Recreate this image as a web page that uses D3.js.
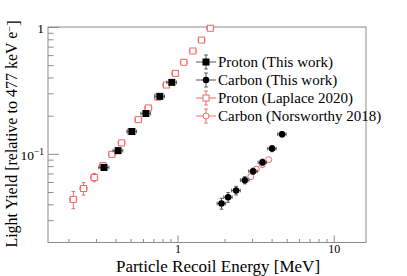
<!DOCTYPE html>
<html><head><meta charset="utf-8">
<script src="https://cdn.jsdelivr.net/npm/d3@7"></script>
<style>html,body{margin:0;padding:0;background:#fff;} svg{display:block;}</style>
</head><body>
<svg id="chart" width="407" height="276"></svg>
<script>
// ---- data ----
const protonE   = [0.338, 0.416, 0.510, 0.627, 0.770, 0.919];
const protonLY  = [0.0781, 0.106, 0.150, 0.208, 0.284, 0.366];
const protonEErr  = [0.025, 0.030, 0.036, 0.045, 0.055, 0.066];
const protonLYErr = [0.004, 0.005, 0.006, 0.008, 0.010, 0.012];

const carbonE   = [1.912, 2.107, 2.371, 2.696, 3.046, 3.499, 4.029, 4.668];
const carbonLY  = [0.0406, 0.0455, 0.0514, 0.0620, 0.0730, 0.0857, 0.110, 0.143];
const carbonEErr  = [0.12, 0.13, 0.15, 0.17, 0.19, 0.22, 0.25, 0.29];
const carbonLYErr = [0.004, 0.004, 0.004, 0.004, 0.004, 0.005, 0.006, 0.007];

const laplaceE  = [0.215, 0.250, 0.293, 0.333, 0.380, 0.438, 0.503, 0.561, 0.650, 0.748, 0.848, 0.968, 1.097, 1.253, 1.425, 1.621];
const laplaceLY = [0.0437, 0.0533, 0.0651, 0.0807, 0.0991, 0.122, 0.150, 0.186, 0.230, 0.280, 0.349, 0.431, 0.527, 0.647, 0.789, 0.977];
const laplaceEErr  = [0.011, 0.013, 0.015, 0.017, 0.019, 0.022, 0.025, 0.028, 0.033, 0.037, 0.042, 0.048, 0.055, 0.063, 0.071, 0.081];
const laplaceLYErr = [0.0068, 0.0060, 0.0050, 0.0045, 0.005, 0.006, 0.0075, 0.009, 0.011, 0.013, 0.016, 0.019, 0.023, 0.027, 0.032, 0.038];

const norsE   = [2.944, 3.193, 3.488, 3.838];
const norsLY  = [0.0661, 0.0757, 0.0822, 0.090];
const norsEErr  = [0.10, 0.10, 0.11, 0.12];
const norsLYErr = [0.003, 0.003, 0.003, 0.003];

const legendLabels = ["Proton (This work)", "Carbon (This work)", "Proton (Laplace 2020)", "Carbon (Norsworthy 2018)"];
const xMajorTicks = [1, 10];
const xMinorTicks = [0.2,0.3,0.4,0.5,0.6,0.7,0.8,0.9,2,3,4,5,6,7,8,9];
const yMajorTicks = [0.1, 1];
const yMinorTicks = [0.03,0.04,0.05,0.06,0.07,0.08,0.09,0.2,0.3,0.4,0.5,0.6,0.7,0.8,0.9];

// ---- layout ----
const L = 48, R = 366, T = 27, B = 242.5;
const FONT = "'Liberation Serif', 'Times New Roman', serif";
const RED = "#f06a6a", BLK = "#000";
const svg = d3.select("#chart");
const x = d3.scaleLog().domain([0.148, 16.1]).range([L, R]);
const y = d3.scaleLog().domain([0.02, 1]).range([B, T]);

// axes (ticks pointing inward)
const axisColor = "#8c8c8c";
function styleAxis(g){ g.select(".domain").remove(); g.selectAll("line").attr("stroke", axisColor); }
svg.append("g").attr("transform",`translate(0,${B})`)
  .call(d3.axisBottom(x).tickValues(xMinorTicks).tickSize(-3.5).tickFormat("")).call(styleAxis);
svg.append("g").attr("transform",`translate(0,${B})`)
  .call(d3.axisBottom(x).tickValues(xMajorTicks).tickSize(-7).tickPadding(2).tickFormat(d3.format("d")))
  .call(styleAxis)
  .call(g=>g.selectAll("text").attr("font-family",FONT).attr("font-size",12).attr("fill","#000").attr("dy","0.72em"));
svg.append("g").attr("transform",`translate(${L},0)`)
  .call(d3.axisLeft(y).tickValues(yMinorTicks).tickSize(-5.5).tickFormat("")).call(styleAxis);
const yMaj = svg.append("g").attr("transform",`translate(${L},0)`)
  .call(d3.axisLeft(y).tickValues(yMajorTicks).tickSize(-11).tickPadding(4).tickFormat(""))
  .call(styleAxis);
yMaj.selectAll(".tick").each(function(d){
  const t = d3.select(this).append("text").attr("x",-4).attr("dy","0.4em")
    .attr("text-anchor","end").attr("font-family",FONT).attr("font-size",13.5).attr("fill","#000");
  if (d === 1) t.text("1");
  else { t.append("tspan").text("10"); t.append("tspan").attr("dy","-0.45em").attr("font-size",9.5).text("\u22121"); }
});

// frame
svg.append("rect").attr("x",L).attr("y",T).attr("width",R-L).attr("height",B-T)
  .attr("fill","none").attr("stroke",axisColor).attr("stroke-width",1);

// error bars + markers
function series(E, LY, dE, dLY, color, errColor, shape, filled, size){
  const g = svg.append("g");
  const data = E.map((e,i)=>({e, ly:LY[i], de:dE[i], dly:dLY[i]}));
  const cap = 1.8;
  data.forEach(d=>{
    const cx = x(d.e), cy = y(d.ly);
    const x0 = x(d.e - d.de), x1 = x(d.e + d.de), y0 = y(d.ly - d.dly), y1 = y(d.ly + d.dly);
    const eg = g.append("g").attr("stroke",errColor).attr("stroke-width",1).attr("fill","none");
    eg.append("line").attr("x1",x0).attr("x2",x1).attr("y1",cy).attr("y2",cy);
    eg.append("line").attr("x1",cx).attr("x2",cx).attr("y1",y0).attr("y2",y1);
    eg.append("line").attr("x1",x0).attr("x2",x0).attr("y1",cy-cap).attr("y2",cy+cap);
    eg.append("line").attr("x1",x1).attr("x2",x1).attr("y1",cy-cap).attr("y2",cy+cap);
    eg.append("line").attr("x1",cx-cap).attr("x2",cx+cap).attr("y1",y0).attr("y2",y0);
    eg.append("line").attr("x1",cx-cap).attr("x2",cx+cap).attr("y1",y1).attr("y2",y1);
  });
  drawMarkers(g, data.map(d=>[x(d.e), y(d.ly)]), color, shape, filled, size);
}
function drawMarkers(g, pts, color, shape, filled, size){
  pts.forEach(([cx,cy])=>{
    let m;
    if (shape === "square") m = g.append("rect").attr("x",cx-size/2).attr("y",cy-size/2).attr("width",size).attr("height",size);
    else m = g.append("circle").attr("cx",cx).attr("cy",cy).attr("r",size/2);
    if (filled) m.attr("fill",color).attr("stroke","none");
    else m.attr("fill","#fff").attr("stroke",color).attr("stroke-width",1);
  });
}
const styles = [
  {color:BLK, err:"#555", shape:"square", filled:true, size:7},
  {color:BLK, err:"#555", shape:"circle", filled:true, size:6.5},
  {color:RED, err:RED, shape:"square", filled:false, size:6},
  {color:RED, err:RED, shape:"circle", filled:false, size:6}
];
series(laplaceE, laplaceLY, laplaceEErr, laplaceLYErr, RED, RED, "square", false, 6);
series(norsE, norsLY, norsEErr, norsLYErr, RED, RED, "circle", false, 6);
series(protonE, protonLY, protonEErr, protonLYErr, BLK, "#555", "square", true, 7);
series(carbonE, carbonLY, carbonEErr, carbonLYErr, BLK, "#555", "circle", true, 6.5);

// legend
const lg = svg.append("g");
legendLabels.forEach((lab,i)=>{
  const cy = 62 + i*18, cx = 206, s = styles[i];
  const eg = lg.append("g").attr("stroke",s.err).attr("stroke-width",1);
  eg.append("line").attr("x1",cx-10).attr("x2",cx+10).attr("y1",cy).attr("y2",cy);
  eg.append("line").attr("x1",cx).attr("x2",cx).attr("y1",cy-7).attr("y2",cy+7);
  eg.append("line").attr("x1",cx-1.8).attr("x2",cx+1.8).attr("y1",cy-7).attr("y2",cy-7);
  eg.append("line").attr("x1",cx-1.8).attr("x2",cx+1.8).attr("y1",cy+7).attr("y2",cy+7);
  drawMarkers(lg, [[cx,cy]], s.color, s.shape, s.filled, s.size);
  lg.append("text").attr("x",218).attr("y",cy).attr("dy","0.35em")
    .attr("font-family",FONT).attr("font-size",15).attr("fill","#000").text(lab);
});

// axis titles
svg.append("text").attr("x",218).attr("y",272).attr("text-anchor","middle")
  .attr("font-family",FONT).attr("font-size",17).attr("fill","#000").text("Particle Recoil Energy [MeV]");
const yt = svg.append("text").attr("transform","translate(17,134) rotate(-90)").attr("text-anchor","middle")
  .attr("font-family",FONT).attr("font-size",16).attr("fill","#000");
yt.append("tspan").text("Light Yield [relative to 477 keV e");
yt.append("tspan").attr("dy","-0.4em").attr("font-size",10.5).text("\u2212");
yt.append("tspan").attr("dy","0.4em").text("]");
</script>
</body></html>
